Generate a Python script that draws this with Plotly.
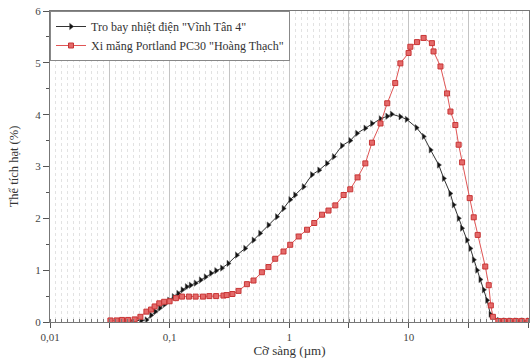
import plotly.graph_objects as go

# Particle size distribution (laser diffraction), size in µm, volume in %
fly_ash_size = [0.040, 0.046, 0.051, 0.058, 0.064, 0.070, 0.076, 0.083, 0.091, 0.099,
                0.108, 0.118, 0.128, 0.139, 0.150, 0.165, 0.182, 0.200, 0.222, 0.245,
                0.274, 0.310, 0.365, 0.428, 0.503, 0.571, 0.671, 0.789, 0.896, 1.02,
                1.12, 1.32, 1.55, 1.78, 2.07, 2.36, 2.76, 3.24, 3.69, 4.33,
                4.92, 5.80, 6.60, 7.20, 8.50, 9.60, 11.6, 13.3, 15.2, 17.8,
                19.6, 22.2, 23.7, 26.1, 27.8, 30.7, 32.7, 34.9, 37.2, 39.6,
                42.3, 45.1, 48.1, 56.4, 63.0, 70.5, 79.0, 89.0, 100.0]
fly_ash_vol = [0.02, 0.02, 0.03, 0.03, 0.04, 0.13, 0.20, 0.27, 0.34, 0.42,
               0.49, 0.55, 0.62, 0.68, 0.71, 0.75, 0.81, 0.87, 0.94, 0.99,
               1.04, 1.13, 1.29, 1.42, 1.58, 1.71, 1.87, 2.03, 2.19, 2.36,
               2.45, 2.61, 2.84, 2.93, 3.06, 3.19, 3.40, 3.50, 3.64, 3.74,
               3.83, 3.92, 3.97, 4.01, 3.96, 3.91, 3.75, 3.58, 3.32, 3.03,
               2.77, 2.48, 2.26, 2.00, 1.81, 1.58, 1.42, 1.20, 1.00, 0.82,
               0.62, 0.42, 0.15, 0.03, 0.02, 0.02, 0.02, 0.02, 0.02]

cement_size = [0.032, 0.036, 0.040, 0.045, 0.051, 0.057, 0.064, 0.070, 0.075, 0.082,
               0.090, 0.100, 0.113, 0.127, 0.145, 0.165, 0.190, 0.215, 0.245, 0.282,
               0.300, 0.335, 0.377, 0.443, 0.503, 0.591, 0.671, 0.764, 0.896, 1.02,
               1.20, 1.41, 1.62, 1.88, 2.13, 2.43, 2.85, 3.24, 3.73, 4.33,
               4.92, 5.80, 6.60, 7.70, 8.50, 9.96, 10.3, 11.7, 13.3, 15.6,
               16.1, 18.4, 20.9, 22.3, 24.5, 26.1, 27.9, 32.3, 34.9, 37.7,
               43.6, 46.6, 48.5, 50.5, 56.0, 62.5, 70.0, 78.5, 88.0, 100.0]
cement_vol = [0.03, 0.03, 0.04, 0.04, 0.05, 0.10, 0.20, 0.24, 0.30, 0.36,
              0.39, 0.40, 0.46, 0.49, 0.49, 0.49, 0.49, 0.50, 0.50, 0.51,
              0.52, 0.54, 0.60, 0.73, 0.80, 0.96, 1.06, 1.22, 1.36, 1.49,
              1.65, 1.78, 1.91, 2.07, 2.15, 2.25, 2.45, 2.56, 2.79, 3.06,
              3.46, 3.83, 4.22, 4.61, 4.99, 5.19, 5.31, 5.40, 5.48, 5.38,
              5.22, 4.93, 4.41, 4.06, 3.80, 3.42, 3.08, 2.39, 2.02, 1.68,
              1.07, 0.71, 0.32, 0.10, 0.02, 0.02, 0.02, 0.02, 0.02, 0.02]

x_tick_vals = [0.01, 0.0316, 0.1, 0.316, 1, 3.16, 10, 31.6, 100]
x_tick_text = ["0,01", "", "0,1", "", "1", "", "10", "", "100"]
y_tick_vals = [0, 1, 2, 3, 4, 5, 6]

serif = "Liberation Serif, Times New Roman, serif"

fig = go.Figure()
fig.add_trace(go.Scatter(
    x=fly_ash_size, y=fly_ash_vol, mode="lines+markers",
    name='Tro bay nhiệt điện "Vĩnh Tân 4"',
    line=dict(color="#333333", width=1),
    marker=dict(symbol="triangle-right", size=5.5, color="#111111",
                line=dict(color="#555555", width=0.5)),
))
fig.add_trace(go.Scatter(
    x=cement_size, y=cement_vol, mode="lines+markers",
    name='Xi măng Portland PC30 "Hoàng Thạch"',
    line=dict(color="#e05555", width=1),
    marker=dict(symbol="square", size=5, color="#e46a6a",
                line=dict(color="#c83535", width=1)),
))

fig.update_layout(
    width=532, height=361,
    margin=dict(l=50, r=3, t=11, b=39),
    paper_bgcolor="white", plot_bgcolor="white",
    font=dict(family=serif, size=11, color="#333333"),
    showlegend=True,
    legend=dict(x=0, y=1, xanchor="left", yanchor="top",
                bgcolor="white", bordercolor="#888888", borderwidth=1,
                font=dict(family=serif, size=12, color="#333333"),
                tracegroupgap=0, itemwidth=30),
    xaxis=dict(
        type="log", range=[-2, 2.005],
        tickmode="array", tickvals=x_tick_vals, ticktext=x_tick_text,
        ticks="outside", ticklen=5, tickcolor="#555555",
        showgrid=True, gridcolor="#c4c4c4", gridwidth=1,
        showline=True, linecolor="#777777", linewidth=1, mirror=True,
        zeroline=False,
        minor=dict(tickmode="linear", tick0=-2, dtick=0.05,
                   showgrid=True, gridcolor="#e2e2e2", griddash="dot",
                   ticks="inside", ticklen=3, tickcolor="#777777"),
        title=dict(text="Cỡ sàng (µm)", font=dict(family=serif, size=13, color="#333333"),
                   standoff=3),
        tickfont=dict(family=serif, size=11, color="#444444"),
    ),
    yaxis=dict(
        range=[0, 6], tickmode="array", tickvals=y_tick_vals,
        ticks="outside", ticklen=6, tickcolor="#555555",
        showgrid=False, zeroline=False,
        showline=True, linecolor="#777777", linewidth=1, mirror=True,
        minor=dict(tickmode="linear", tick0=0, dtick=0.5,
                   ticks="outside", ticklen=3, tickcolor="#555555", showgrid=False),
        title=dict(text="Thể tích hạt (%)", font=dict(family=serif, size=12.5, color="#333333"),
                   standoff=13),
        tickfont=dict(family=serif, size=11, color="#444444"),
    ),
)

fig.write_html("out.html")
